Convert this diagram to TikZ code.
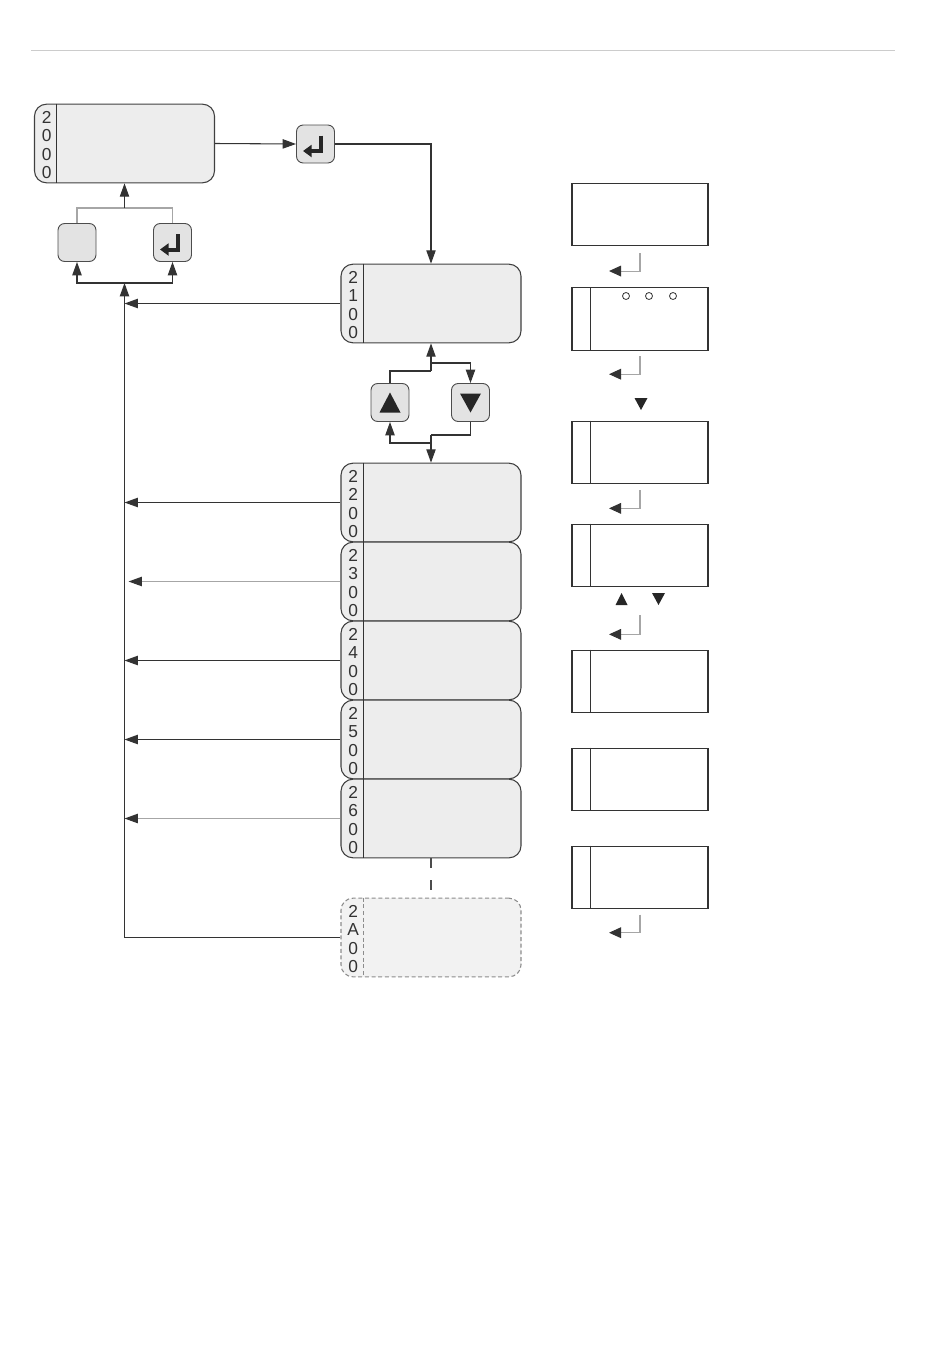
\documentclass[tikz,border=0pt]{standalone}
\usepackage{fontspec}
\setmainfont{Liberation Sans}
\usetikzlibrary{arrows.meta}
\tikzstyle{menu} = [draw=black!75, fill=black!7, line width=0.8pt, rounded corners=9pt, minimum width=135pt, minimum height=59pt, inner sep=0pt]
\tikzstyle{menugris} = [menu, draw=black!45, fill=black!5, dash pattern=on 3pt off 2pt]
\tikzstyle{cifras} = [text=black!80, align=center, font=\fontsize{13}{13.8}\selectfont, inner sep=0pt, xshift=9.5pt, yshift=-1.2pt]
\tikzstyle{boton} = [draw=black!70, fill=black!11, line width=0.7pt, rounded corners=5pt, minimum size=28.5pt, inner sep=0pt]
\tikzstyle{pantalla} = [draw=black!80, line width=0.8pt, minimum width=102pt, minimum height=47pt, inner sep=0pt]
\tikzstyle{linea} = [draw=black!80, line width=0.8pt]
\tikzstyle{lineagris} = [draw=black!35, line width=0.8pt]
\tikzstyle{flecha} = [linea, -{Triangle[length=10pt,width=7pt]}]
\tikzstyle{flechagris} = [lineagris, -{Triangle[length=10pt,width=7pt,color=black!80]}]
\tikzstyle{retorno} = [lineagris, -{Triangle[length=9pt,width=8pt,color=black!80]}]
\tikzstyle{glifo} = [draw=black!85, line width=3pt, -{Triangle[length=6.5pt,width=9pt]}]
\newcommand{\division}[2][linea]{\draw[#1] ([xshift=17pt]#2.north west) -- ([xshift=17pt]#2.south west);}
\newcommand{\franja}[1]{\draw[linea] ([xshift=14pt]#1.north west) -- ([xshift=14pt]#1.south west);}
\newcommand{\tecla}[1]{\draw[glifo] ([shift={(5,-8.5)}]#1.center) -- ++(0,15.5) -- ++(-17.5,0);}

\begin{document}
\begin{tikzpicture}[x=0.75pt,y=-0.75pt]
	\useasboundingbox (0,0) rectangle (950,1356);
	\draw[black!20, line width=0.75pt] (31,50) -- (895,50);

	% menus
	\node[menu] (b2000) at (124.5,143.5) {};
	\division{b2000}
	\node[cifras] at (b2000.west) {2\\0\\0\\0};
	\node[menu] (b2100) at (431,303.5) {};
	\division{b2100}
	\node[cifras] at (b2100.west) {2\\1\\0\\0};
	\node[menu] (b2200) at (431,502.5) {};
	\division{b2200}
	\node[cifras] at (b2200.west) {2\\2\\0\\0};
	\node[menu] (b2300) at (431,581.5) {};
	\division{b2300}
	\node[cifras] at (b2300.west) {2\\3\\0\\0};
	\node[menu] (b2400) at (431,660.5) {};
	\division{b2400}
	\node[cifras] at (b2400.west) {2\\4\\0\\0};
	\node[menu] (b2500) at (431,739.5) {};
	\division{b2500}
	\node[cifras] at (b2500.west) {2\\5\\0\\0};
	\node[menu] (b2600) at (431,818.5) {};
	\division{b2600}
	\node[cifras] at (b2600.west) {2\\6\\0\\0};
	\node[menugris] (b2A00) at (431,937.5) {};
	\division[menugris]{b2A00}
	\node[cifras] at (b2A00.west) {2\\A\\0\\0};

	% botones
	\node[boton] (enter1) at (315.5,144) {};
	\tecla{enter1}
	\node[boton] (vacio) at (77,242.5) {};
	\node[boton] (enter2) at (172.5,242.5) {};
	\tecla{enter2}
	\node[boton] (arriba) at (390,402.5) {};
	\fill[black!85] ([shift={(-10.5,10)}]arriba.center) -- ++(21,0) -- ++(-10.5,-20) -- cycle;
	\node[boton] (abajo) at (470.5,402.5) {};
	\fill[black!85] ([shift={(-10.5,-9)}]abajo.center) -- ++(21,0) -- ++(-10.5,19) -- cycle;

	% conexiones
	\coordinate (sube) at (124.5,208);
	\coordinate (base) at (124.5,283);
	\draw[lineagris] (vacio.north) |- (sube) -| (enter2.north);
	\draw[flecha] (sube) -- (b2000.south);
	\draw[flecha] (base) -| (vacio.south);
	\draw[flecha] (base) -| (enter2.south);
	\draw[flecha] (b2000.east) -- (enter1.west);
	\draw[flecha] (enter1.east) -| (b2100.north);
	\coordinate (r1) at (431,363);
	\coordinate (r2) at (431,371);
	\coordinate (r3) at (431,435);
	\coordinate (r4) at (431,443);
	\draw[flecha] (r1) -| (abajo.north);
	\draw[linea] (arriba.north) |- (r2);
	\draw[flecha] (r2) -- (b2100.south);
	\draw[linea] (abajo.south) |- (r3);
	\draw[flecha] (r4) -| (arriba.south);
	\draw[flecha] (r3) -- (b2200.north);
	\draw[black!70, line width=0.8pt, dash pattern=on 7.5pt off 9pt] (b2600.south) -- (b2A00.north);

	\draw[flecha] (b2A00.west) -| (base);
	\draw[flecha] (b2100.west) -- (b2100.west -| base);
	\draw[flecha] (b2200.west) -- (b2200.west -| base);
	\draw[flechagris] (b2300.west) -- ([xshift=3pt]b2300.west -| base);
	\draw[flecha] (b2400.west) -- (b2400.west -| base);
	\draw[flecha] (b2500.west) -- (b2500.west -| base);
	\draw[flechagris] (b2600.west) -- (b2600.west -| base);

	% pantallas
	\node[pantalla] (p1) at (640,214.5) {};
	\node[pantalla] (p2) at (640,319) {};
	\franja{p2}
	\node[pantalla] (p3) at (640,452.5) {};
	\franja{p3}
	\node[pantalla] (p4) at (640,555.5) {};
	\franja{p4}
	\node[pantalla] (p5) at (640,681.5) {};
	\franja{p5}
	\node[pantalla] (p6) at (640,779.5) {};
	\franja{p6}
	\node[pantalla] (p7) at (640,877.5) {};
	\franja{p7}
	\draw[black!80, line width=0.6pt] (626,296) circle (3.5) (649,296) circle (3.5) (673,296) circle (3.5);

	\draw[retorno] ([yshift=-5pt]p1.south) -- ++(0,18) -- ++(-31,0);
	\draw[retorno] ([yshift=-4pt]p2.south) -- ++(0,18) -- ++(-31,0);
	\fill[black!85] (634.5,398) -- (647.5,398) -- (641,410) -- cycle;
	\draw[retorno] ([yshift=-4.5pt]p3.south) -- ++(0,18) -- ++(-31,0);
	\fill[black!85] (615.5,605) -- (627.5,605) -- (621.5,593) -- cycle;
	\fill[black!85] (652,593) -- (665,593) -- (658.5,605) -- cycle;
	\draw[retorno] ([yshift=-21pt]p4.south) -- ++(0,19) -- ++(-31,0);
	\draw[retorno] ([yshift=-4pt]p7.south) -- ++(0,18) -- ++(-31,0);
\end{tikzpicture}
\end{document}
